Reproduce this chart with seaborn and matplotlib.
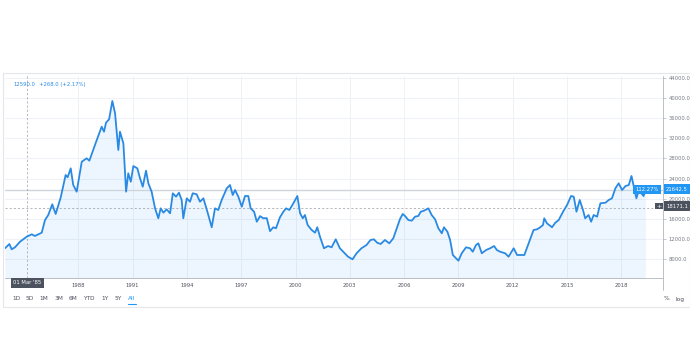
import matplotlib.pyplot as plt
import matplotlib.patches as mpatches
from matplotlib.lines import Line2D
import numpy as np
import pandas as pd
import seaborn as sns

# %%
# index level (decimal year, points)
years = [
    1983.95, 1984.19, 1984.32, 1984.5, 1984.78, 1985.15, 1985.43, 1985.6, 1985.98,
    1986.16, 1986.34, 1986.56, 1986.75, 1987.03, 1987.3, 1987.41, 1987.58, 1987.72,
    1987.91, 1988.19, 1988.46, 1988.61, 1989.02, 1989.29, 1989.42, 1989.53, 1989.7,
    1989.88, 1990.03, 1990.21, 1990.3, 1990.49, 1990.64, 1990.76, 1990.9, 1991.04,
    1991.26, 1991.41, 1991.56, 1991.74, 1991.87, 1992.05, 1992.24, 1992.42, 1992.55,
    1992.7, 1992.88, 1993.07, 1993.22, 1993.4, 1993.56, 1993.71, 1993.8, 1993.99,
    1994.17, 1994.32, 1994.54, 1994.72, 1994.91, 1995.13, 1995.37, 1995.55, 1995.73,
    1995.92, 1996.2, 1996.38, 1996.53, 1996.66, 1996.84, 1997.03, 1997.21, 1997.39,
    1997.52, 1997.71, 1997.86, 1998.04, 1998.22, 1998.41, 1998.59, 1998.77, 1998.92,
    1999.14, 1999.33, 1999.48, 1999.66, 1999.88, 2000.1, 2000.25, 2000.4, 2000.52,
    2000.67, 2000.89, 2001.08, 2001.2, 2001.35, 2001.57, 2001.8, 2001.99, 2002.22,
    2002.45, 2002.72, 2002.9, 2003.15, 2003.37, 2003.64, 2003.92, 2004.14, 2004.33,
    2004.51, 2004.7, 2004.94, 2005.18, 2005.4, 2005.59, 2005.77, 2005.92, 2006.05,
    2006.23, 2006.42, 2006.6, 2006.78, 2006.92, 2007.1, 2007.34, 2007.52, 2007.71,
    2007.89, 2008.08, 2008.2, 2008.39, 2008.54, 2008.69, 2008.87, 2009.0, 2009.18,
    2009.42, 2009.64, 2009.79, 2009.97, 2010.1, 2010.29, 2010.53, 2010.75, 2010.97,
    2011.12, 2011.3, 2011.58, 2011.77, 2012.05, 2012.24, 2012.42, 2012.64, 2012.88,
    2013.15, 2013.34, 2013.52, 2013.67, 2013.74, 2013.89, 2014.17, 2014.35, 2014.54,
    2014.78, 2015.0, 2015.22, 2015.37, 2015.52, 2015.7, 2015.88, 2016.0, 2016.19,
    2016.33, 2016.47, 2016.66, 2016.84, 2017.12, 2017.3, 2017.48, 2017.67, 2017.85,
    2018.04, 2018.23, 2018.41, 2018.56, 2018.69, 2018.83, 2018.96, 2019.1, 2019.23,
    2019.33,
]
values = [
    10075, 10930, 9875, 10270, 11390, 12390, 12870, 12530, 13190,
    15720, 16720, 18850, 16920, 20250, 24700, 24240, 26030, 22700,
    21370, 27350, 28030, 27550, 31680, 34330, 33340, 35130, 35810,
    39460, 37010, 29690, 33340, 31020, 21370, 25040, 23360, 26490,
    26030, 24040, 22360, 25560, 23040, 21370, 18050, 16060, 18050,
    17180, 17850, 17060, 21050, 20370, 21170, 19710, 16060, 20050,
    19370, 21050, 20850, 19370, 20050, 17380, 14270, 18050, 17720,
    19710, 22040, 22700, 20710, 21700, 20370, 18370, 20510, 20510,
    18050, 17380, 15380, 16500, 16060, 16100, 13500, 14270, 14070,
    16260, 17380, 18050, 17720, 19050, 20510, 17060, 16060, 16720,
    14720, 13730, 13190, 14270, 12390, 10080, 10530, 10270, 11870,
    10080, 9080, 8400, 7880, 9080, 10080, 10730, 11730, 11870,
    11190, 10930, 11730, 11070, 12070, 14070, 15900, 16920, 16520,
    15720, 15580, 16380, 16520, 17380, 17580, 18050, 16720, 15860,
    14070, 13070, 14270, 13390, 11730, 8740, 8080, 7600, 9080,
    10270, 10080, 9400, 10730, 11070, 9080, 9740, 10080, 10530,
    9740, 9400, 9080, 8400, 10080, 8740, 8740, 8740, 11070,
    13730, 13860, 14270, 14720, 16060, 15060, 14270, 15180, 15720,
    17380, 18710, 20510, 20370, 17380, 19710, 17720, 16060, 16720,
    15380, 16720, 16380, 19050, 19170, 19710, 20050, 22040, 23040,
    21700, 22500, 22700, 24500, 22360, 20050, 21570, 21050, 20510,
    21640,
]
year_ticks = [1988, 1991, 1994, 1997, 2000, 2003, 2006, 2009, 2012, 2015, 2018]
price_ticks = [8000, 12000, 16000, 20000, 24000, 28000, 32000, 36000, 40000, 44000]
ranges = ["1D", "5D", "1M", "3M", "6M", "YTD", "1Y", "5Y", "All"]
last_price = 21642.5
last_pct = "112.27%"
cross_price = 18171.1
cross_year = 1985.17
header = ["12590.0", "+268.0 (+2.17%)"]

# %%
W, H = 690, 356
BLUE = "#2a8ae3"
GREY_TXT = "#787b86"

sns.set_style("white")
plt.rcParams["font.family"] = ["DejaVu Sans"]

fig = plt.figure(figsize=(W / 100, H / 100), dpi=100)
fig.patch.set_facecolor("white")

# card behind the widget
card = mpatches.Rectangle((3 / W, 1 - 307 / H), 1 - 3 / W, (307 - 73) / H,
                          transform=fig.transFigure, facecolor="white",
                          edgecolor="#e4e6ea", linewidth=0.8, zorder=-10)
fig.patches.append(card)

ax = fig.add_axes([5 / W, 1 - 277.7 / H, (663 - 5) / W, (277.7 - 76) / H])
ax.set_facecolor("none")
df = pd.DataFrame({"year": years, "price": values})

ax.fill_between(df["year"], df["price"], 0, color="#2196f3", alpha=0.08, linewidth=0)
sns.lineplot(data=df, x="year", y="price", ax=ax, color=BLUE, linewidth=1.3)

ax.set_xlim(1983.95, 2020.3)
ax.set_ylim(4210, 44450)
ax.set_xticks(year_ticks)
ax.set_xticklabels([str(y) for y in year_ticks])
ax.set_yticks(price_ticks)
ax.set_yticklabels([f"{p:.1f}" for p in price_ticks])
ax.yaxis.tick_right()
ax.tick_params(axis="x", length=0, labelsize=3.8, labelcolor="#50535e", pad=4)
ax.tick_params(axis="y", length=2, width=0.5, color="#b2b5be", labelsize=3.8,
               labelcolor=GREY_TXT, pad=2)
ax.set_xlabel("")
ax.set_ylabel("")
ax.grid(True, color="#eef1f6", linewidth=0.7)
for side in ["top", "left"]:
    ax.spines[side].set_visible(False)
ax.spines["bottom"].set_color("#b2b5be")
ax.spines["bottom"].set_linewidth(0.6)
ax.spines["right"].set_visible(False)

# right scale line reaching down into the axis strip
fig.add_artist(Line2D([663 / W, 663 / W], [1 - 76 / H, 1 - 290 / H],
                      transform=fig.transFigure, color="#b2b5be", linewidth=0.6))

# last price line and crosshair
ax.axhline(last_price, color="#cfd4dc", linewidth=1.0, zorder=1)
ax.axhline(cross_price, color="#9598a1", linewidth=0.5, linestyle=(0, (3, 3)), zorder=1)
ax.axvline(cross_year, color="#9598a1", linewidth=0.5, linestyle=(0, (3, 3)), zorder=1)

# price labels on the scale
fig.text(647 / W, 1 - 189.2 / H, last_pct, fontsize=3.8, color="white", ha="center", va="center",
         bbox=dict(boxstyle="square,pad=0.35", facecolor="#2196f3", edgecolor="none"))
fig.text(677 / W, 1 - 189.2 / H, f"{last_price:.1f}", fontsize=3.8, color="white", ha="center",
         va="center", bbox=dict(boxstyle="square,pad=0.45", facecolor="#2196f3", edgecolor="none"))
fig.text(659 / W, 1 - 206 / H, "+", fontsize=4.5, color="white", ha="center", va="center",
         bbox=dict(boxstyle="square,pad=0.15", facecolor="#4c525e", edgecolor="none"))
fig.text(677 / W, 1 - 206 / H, f"{cross_price:.1f}", fontsize=3.8, color="white", ha="center",
         va="center", bbox=dict(boxstyle="square,pad=0.45", facecolor="#4c525e", edgecolor="none"))

# crosshair date label
fig.text(27.3 / W, 1 - 283 / H, "01 Mar '85", fontsize=3.8, color="white", ha="center",
         va="center", bbox=dict(boxstyle="square,pad=0.5", facecolor="#4c525e", edgecolor="none"))

# header values
fig.text(13 / W, 1 - 84.7 / H, header[0], fontsize=3.8, color=BLUE, va="center")
fig.text(39 / W, 1 - 84.7 / H, header[1], fontsize=3.8, color=BLUE, va="center")

# range toolbar
range_x = [16, 30, 44, 59, 73, 89, 105, 118, 132]
for lab, xp in zip(ranges, range_x):
    col = "#2196f3" if lab == "All" else "#50535e"
    fig.text(xp / W, 1 - 299 / H, lab, fontsize=4.2, color=col, ha="center", va="center")
fig.add_artist(Line2D([128 / W, 136 / W], [1 - 304 / H, 1 - 304 / H],
                      transform=fig.transFigure, color="#2196f3", linewidth=0.8))
fig.text(666 / W, 1 - 299 / H, "%", fontsize=4.2, color="#50535e", ha="center", va="center")
fig.text(680 / W, 1 - 299 / H, "log", fontsize=4.2, color="#50535e", ha="center", va="center")

fig.savefig("out.png", dpi=100)
